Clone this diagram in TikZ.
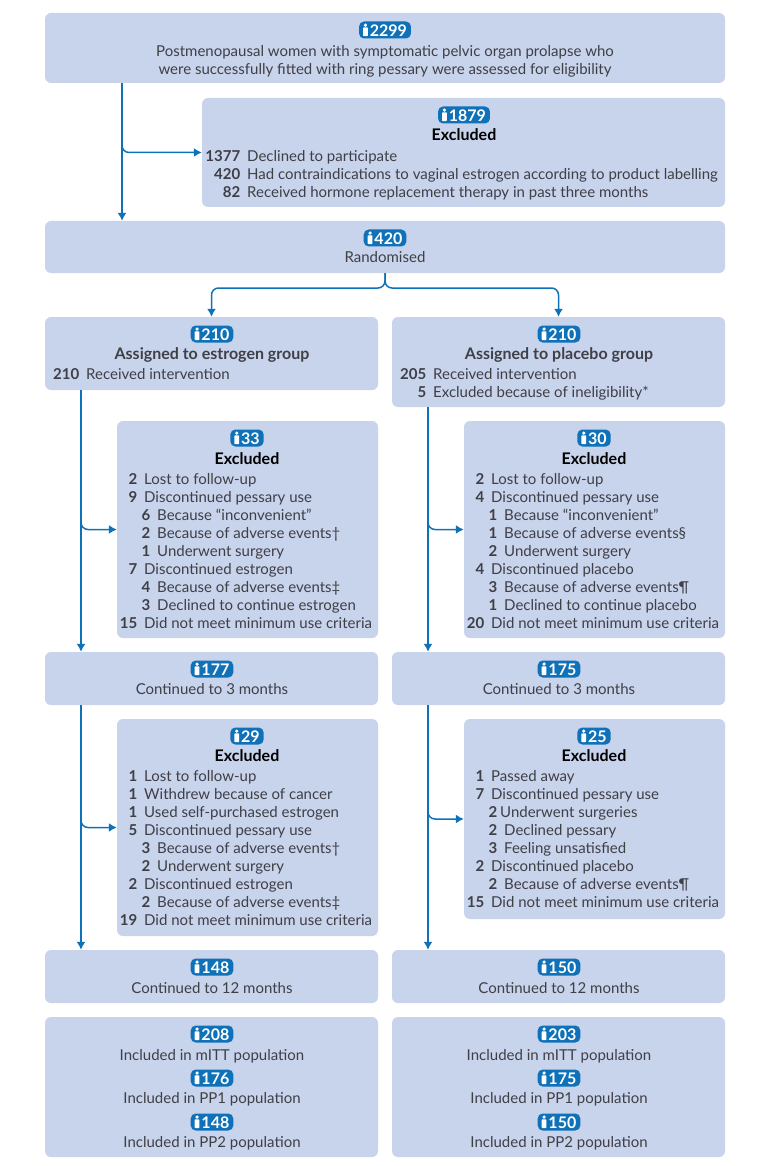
\documentclass[tikz,border=0pt]{standalone}
\usepackage{fontspec}
\setmainfont{Lato}
\usetikzlibrary{arrows.meta}

\definecolor{panelblue}{HTML}{C8D3EC}
\definecolor{flowblue}{HTML}{0F72B8}
\definecolor{bodygrey}{HTML}{3F3F46}

\newcommand{\person}{\tikz[x=1pt,y=1pt,baseline=-0.5pt]{
	\fill[white] (0,11) circle (1.8);
	\fill[white,rounded corners=0.7] (-2.4,0) rectangle (2.4,8.8);
}\hspace{2pt}}
\newcommand{\rowmain}[2]{\strut\makebox[20pt][r]{\bfseries #1}\hspace{7pt}#2}
\newcommand{\rowsub}[2]{\strut\makebox[33pt][r]{\bfseries #1}\hspace{7pt}#2}
\newcommand{\rowtight}[2]{\strut\makebox[33pt][r]{\bfseries #1}\hspace{3pt}#2}
\newcommand{\headline}[1]{\strut{\fontsize{16}{18}\selectfont\bfseries #1}}

\begin{document}
\begin{tikzpicture}[x=1pt, y=-1pt,
	panel/.style={fill=panelblue, rounded corners=6pt, inner sep=0pt},
	badge/.style={fill=flowblue, text=white, rounded corners=5pt, inner sep=0pt, inner xsep=4pt, minimum height=17pt, font=\fontsize{16}{16}\selectfont\bfseries},
	label/.style={anchor=north, align=center, inner sep=0pt, yshift=-1pt, text=bodygrey, font=\fontsize{15}{18}\selectfont},
	rows/.style={anchor=north west, align=left, inner sep=0pt, yshift=-1pt, text=bodygrey, font=\fontsize{15}{18}\selectfont},
	flow/.style={draw=flowblue, line width=1.5pt, rounded corners=7pt, -{Latex[length=8pt,width=9pt]}}]

	\useasboundingbox (0,0) rectangle (759,1166);

	% trunks
	\coordinate (topTrunk) at (122,0);
	\coordinate (estTrunk) at (81,0);
	\coordinate (plaTrunk) at (428,0);
	\coordinate (topTap) at (122,132);
	\coordinate (estTapA) at (81,510);
	\coordinate (plaTapA) at (428,510);
	\coordinate (estTapB) at (81,808);
	\coordinate (plaTapB) at (428,799);
	\coordinate (randFork) at (385,273);
	\coordinate (randMid) at (385,288);

	% top
	\node[panel, minimum width=680pt, minimum height=70pt] (assessed) at (385,48) {};
	\node[badge] (assessedN) at (385,30) {\person 2299};
	\node[label] (assessedT) at (385,43) {\strut Postmenopausal women with symptomatic pelvic organ prolapse who\\\strut were successfully fitted with ring pessary were assessed for eligibility};

	\node[panel, minimum width=523pt, minimum height=109pt] (excluded) at (463.5,152.5) {};
	\node[badge] (excludedN) at (464,115) {\person 1879};
	\node[label] (excludedT) at (464,127) {\textcolor{black}{\headline{Excluded}}};
	\node[rows] (excludedR) at (220,148) {\rowmain{1377}{Declined to participate}\\\rowmain{420}{Had contraindications to vaginal estrogen according to product labelling}\\\rowmain{82}{Received hormone replacement therapy in past three months}};

	\node[panel, minimum width=680pt, minimum height=52pt] (random) at (385,247) {};
	\node[badge] (randomN) at (385,238) {\person 420};
	\node[label] (randomT) at (385,249) {\strut Randomised};

	% assigned
	\node[panel, minimum width=333pt, minimum height=73pt] (estGroup) at (211.5,353.5) {};
	\node[badge] (estGroupN) at (212,334) {\person 210};
	\node[label] (estGroupT) at (212,346) {\headline{Assigned to estrogen group}};
	\node[rows] (estGroupR) at (59,366) {\rowmain{210}{Received intervention}};

	\node[panel, minimum width=333pt, minimum height=90pt] (plaGroup) at (558.5,362) {};
	\node[badge] (plaGroupN) at (559,334) {\person 210};
	\node[label] (plaGroupT) at (559,346) {\headline{Assigned to placebo group}};
	\node[rows] (plaGroupR) at (406,366) {\rowmain{205}{Received intervention}\\\rowmain{5}{Excluded because of ineligibility*}};

	% first exclusions
	\node[panel, minimum width=261pt, minimum height=217pt] (estOutA) at (247.5,529.5) {};
	\node[badge] (estOutAN) at (247,438) {\person 33};
	\node[label] (estOutAT) at (247,451) {\textcolor{black}{\headline{Excluded}}};
	\node[rows] (estOutAR) at (117,471) {\rowmain{2}{Lost to follow-up}\\
		\rowmain{9}{Discontinued pessary use}\\
		\rowsub{6}{Because “inconvenient”}\\
		\rowsub{2}{Because of adverse events†}\\
		\rowsub{1}{Underwent surgery}\\
		\rowmain{7}{Discontinued estrogen}\\
		\rowsub{4}{Because of adverse events‡}\\
		\rowsub{3}{Declined to continue estrogen}\\
		\rowmain{15}{Did not meet minimum use criteria}};

	\node[panel, minimum width=261pt, minimum height=217pt] (plaOutA) at (594.5,529.5) {};
	\node[badge] (plaOutAN) at (594,438) {\person 30};
	\node[label] (plaOutAT) at (594,451) {\textcolor{black}{\headline{Excluded}}};
	\node[rows] (plaOutAR) at (464,471) {\rowmain{2}{Lost to follow-up}\\
		\rowmain{4}{Discontinued pessary use}\\
		\rowsub{1}{Because “inconvenient”}\\
		\rowsub{1}{Because of adverse events§}\\
		\rowsub{2}{Underwent surgery}\\
		\rowmain{4}{Discontinued placebo}\\
		\rowsub{3}{Because of adverse events¶}\\
		\rowsub{1}{Declined to continue placebo}\\
		\rowmain{20}{Did not meet minimum use criteria}};

	% 3 months
	\node[panel, minimum width=333pt, minimum height=53pt] (estThree) at (211.5,678.5) {};
	\node[badge] (estThreeN) at (212,669) {\person 177};
	\node[label] (estThreeT) at (212,681) {\strut Continued to 3 months};

	\node[panel, minimum width=333pt, minimum height=53pt] (plaThree) at (558.5,678.5) {};
	\node[badge] (plaThreeN) at (559,669) {\person 175};
	\node[label] (plaThreeT) at (559,681) {\strut Continued to 3 months};

	% second exclusions
	\node[panel, minimum width=261pt, minimum height=217pt] (estOutB) at (247.5,827.5) {};
	\node[badge] (estOutBN) at (247,736) {\person 29};
	\node[label] (estOutBT) at (247,748) {\textcolor{black}{\headline{Excluded}}};
	\node[rows] (estOutBR) at (117,768) {\rowmain{1}{Lost to follow-up}\\
		\rowmain{1}{Withdrew because of cancer}\\
		\rowmain{1}{Used self-purchased estrogen}\\
		\rowmain{5}{Discontinued pessary use}\\
		\rowsub{3}{Because of adverse events†}\\
		\rowsub{2}{Underwent surgery}\\
		\rowmain{2}{Discontinued estrogen}\\
		\rowsub{2}{Because of adverse events‡}\\
		\rowmain{19}{Did not meet minimum use criteria}};

	\node[panel, minimum width=261pt, minimum height=200pt] (plaOutB) at (594.5,819) {};
	\node[badge] (plaOutBN) at (594,736) {\person 25};
	\node[label] (plaOutBT) at (594,748) {\textcolor{black}{\headline{Excluded}}};
	\node[rows] (plaOutBR) at (464,768) {\rowmain{1}{Passed away}\\
		\rowmain{7}{Discontinued pessary use}\\
		\rowtight{2}{Underwent surgeries}\\
		\rowsub{2}{Declined pessary}\\
		\rowsub{3}{Feeling unsatisfied}\\
		\rowmain{2}{Discontinued placebo}\\
		\rowsub{2}{Because of adverse events¶}\\
		\rowmain{15}{Did not meet minimum use criteria}};

	% 12 months
	\node[panel, minimum width=333pt, minimum height=53pt] (estTwelve) at (211.5,976.5) {};
	\node[badge] (estTwelveN) at (212,967) {\person 148};
	\node[label] (estTwelveT) at (212,980) {\strut Continued to 12 months};

	\node[panel, minimum width=333pt, minimum height=53pt] (plaTwelve) at (558.5,976.5) {};
	\node[badge] (plaTwelveN) at (559,967) {\person 150};
	\node[label] (plaTwelveT) at (559,980) {\strut Continued to 12 months};

	% populations
	\node[panel, minimum width=333pt, minimum height=140pt] (estPop) at (211.5,1087) {};
	\node[badge] (estPopA) at (212,1034) {\person 208};
	\node[label] (estPopAT) at (212,1047) {\strut Included in mITT population};
	\node[badge] (estPopB) at (212,1078) {\person 176};
	\node[label] (estPopBT) at (212,1090) {\strut Included in PP1 population};
	\node[badge] (estPopC) at (212,1122) {\person 148};
	\node[label] (estPopCT) at (212,1134) {\strut Included in PP2 population};

	\node[panel, minimum width=333pt, minimum height=140pt] (plaPop) at (558.5,1087) {};
	\node[badge] (plaPopA) at (559,1034) {\person 203};
	\node[label] (plaPopAT) at (559,1047) {\strut Included in mITT population};
	\node[badge] (plaPopB) at (559,1078) {\person 175};
	\node[label] (plaPopBT) at (559,1090) {\strut Included in PP1 population};
	\node[badge] (plaPopC) at (559,1122) {\person 150};
	\node[label] (plaPopCT) at (559,1134) {\strut Included in PP2 population};

	% connectors
	\draw[flow] (assessed.south -| topTrunk) -- (random.north -| topTrunk);
	\draw[flow] (topTap) |- (excluded.west);
	\draw[flow] (randFork) -- (randMid) -| (estGroup.north);
	\draw[flow] (randFork) -- (randMid) -| (plaGroup.north);
	\draw[flow] (estGroup.south -| estTrunk) -- (estThree.north -| estTrunk);
	\draw[flow] (estTapA) |- (estOutA.west);
	\draw[flow] (plaGroup.south -| plaTrunk) -- (plaThree.north -| plaTrunk);
	\draw[flow] (plaTapA) |- (plaOutA.west);
	\draw[flow] (estThree.south -| estTrunk) -- (estTwelve.north -| estTrunk);
	\draw[flow] (estTapB) |- (estOutB.west);
	\draw[flow] (plaThree.south -| plaTrunk) -- (plaTwelve.north -| plaTrunk);
	\draw[flow] (plaTapB) |- (plaOutB.west);

\end{tikzpicture}
\end{document}
